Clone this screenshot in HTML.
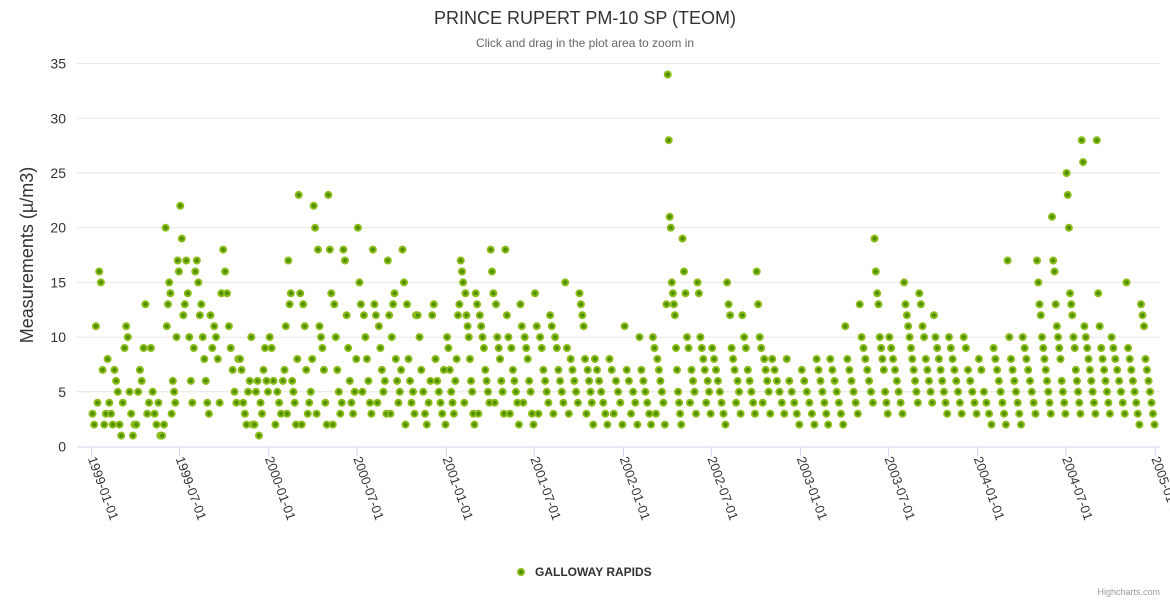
<!DOCTYPE html>
<html><head><meta charset="utf-8"><style>
body{margin:0;background:#fff;font-family:"Liberation Sans","DejaVu Sans",sans-serif;}
svg{display:block}
</style></head><body>
<svg id="chart" width="1170" height="600">
<rect width="1170" height="600" fill="#fff"/>
<text x="585" y="24" text-anchor="middle" font-size="18" fill="#333">PRINCE RUPERT PM-10 SP (TEOM)</text>
<text x="585" y="47" text-anchor="middle" font-size="12" fill="#666">Click and drag in the plot area to zoom in</text>
<text transform="translate(33,255) rotate(-90)" text-anchor="middle" font-size="18" fill="#333">Measurements (µ/m3)</text>
<g id="grid"></g><g id="xaxis"></g><g id="points"></g>
<g>
<circle cx="521" cy="572" r="3" fill="#4d8f00" stroke="#8cbc1a" stroke-width="2"/>
<text x="535" y="576" font-size="12" font-weight="bold" fill="#333">GALLOWAY RAPIDS</text>
</g>
<text x="1160" y="595" text-anchor="end" font-size="9" fill="#999">Highcharts.com</text>
</svg>
<script>
const yTicks=[0,5,10,15,20,25,30,35];
const xTickLabels=["1999-01-01","1999-07-01","2000-01-01","2000-07-01","2001-01-01","2001-07-01","2002-01-01","2002-07-01","2003-01-01","2003-07-01","2004-01-01","2004-07-01","2005-01-01"];
const startYear=1999;
// monthly readings (values in order across each month)
const monthValues=[
[3,2,11,4,16,15,7,2,3],[8,4,3,2,7,6,5,2],[1,4,9,11,10,5,3,1,2],[2,5,7,6,9,13,3,4],
[9,5,3,2,4,1,1,2],[20,11,13,15,14,3,6,5,4,10,17,16],[22,19,12,13,17,14,10,6,4,9],[16,17,15,12,13,10,8,6,4,3],
[12,9,11,10,8,4,14,18],[16,14,11,9,7,5,4,8],[8,7,4,3,2,5,6,10,2],[2,5,6,1,4,3,7,9,6,5],
[10,9,6,2,5,4,3,6],[7,11,3,17,13,14,6,5,4,2,8],[23,14,2,13,11,7,3,4,5,8],[22,20,3,18,11,10,9,7,4,2],
[23,18,14,2,13,10,7,5,3,4],[18,17,12,9,6,4,3,5,8],[20,15,13,5,12,10,8,6,4,3],[18,13,12,4,11,9,7,5,6,3],
[17,12,3,10,13,14,8,6,4,5,7],[18,15,2,13,8,6,4,5,3,12],[12,10,7,5,3,2,4,6],[12,13,8,6,5,4,3,7,2],
[10,9,7,5,4,3,6,8,12,13,17],[16,15,4,14,12,11,10,8,6,5,3,2],[14,13,3,12,11,10,9,7,6,5,4],[18,16,14,4,13,10,9,8,6,5,3],
[18,12,10,3,9,7,6,5,4,2],[13,11,4,10,9,8,6,5,3,2],[14,11,3,10,9,7,6,5,4],[12,11,3,10,9,7,6,5,4],
[15,9,3,8,7,6,5,4],[14,13,12,11,8,3,7,6,5,4,2],[8,7,6,5,4,3,2],[8,7,3,6,5,4,2],
[11,7,6,3,5,4,2],[10,7,6,5,4,3,2],[10,9,3,8,7,6,5,4,2,13],[34,28,21,20,15,14,13,12,9,7,5,4,3,2],
[19,16,14,10,9,4,7,6,5,3],[15,14,10,9,8,7,4,6,5,3],[9,8,7,6,5,4,3,2],[15,13,12,9,8,7,4,6,5,3],
[12,10,9,7,6,5,4,3],[16,13,10,9,4,8,7,6,5,3],[8,7,6,5,4,3],[8,6,5,4,3,2],
[7,6,5,4,3,2],[8,7,6,5,4,3,2],[8,7,6,5,4,3,2],[11,8,7,6,5,4,3],
[13,10,9,8,7,6,5,4],[19,16,14,13,10,9,8,7,5,4,3],[10,9,8,7,6,5,4,3],[15,13,12,11,10,9,8,7,6,5,4],
[14,13,11,10,8,7,6,5,4],[12,10,9,8,7,6,5,4,3],[10,9,8,7,6,5,4,3],[10,9,7,6,5,4,3],
[8,7,5,4,3,2],[9,8,7,6,5,4,3,2],[17,10,8,7,6,5,4,3,2],[10,9,8,7,6,5,4,3],
[17,15,13,12,10,9,8,7,6,5,4,3],[21,17,16,13,11,10,9,8,6,5,4,3],[25,23,20,14,13,12,10,9,7,6,5,4,3],[28,26,11,10,9,8,7,6,5,4,3],
[28,14,11,9,8,7,6,5,4,3],[10,9,8,7,6,5,4,3],[15,9,8,7,6,5,4,3,2],[13,12,11,8,7,6,5,4,3,2]
];
const NS="http://www.w3.org/2000/svg";
const X0=91.7,PXDAY=0.4852,Y0=446.5,PXU=10.94,LEFT=77,RIGHT=1160;
const base=Date.UTC(startYear,0,1);
function xs(ms){return X0+(ms-base)/86400000*PXDAY;}
function ys(v){return Y0-v*PXU;}
function mk(tag,attrs){const e=document.createElementNS(NS,tag);for(const k in attrs)e.setAttribute(k,attrs[k]);return e;}
const grid=document.getElementById('grid');
yTicks.forEach(t=>{
  const y=ys(t);
  if(t>0){const l=mk('line',{x1:LEFT,x2:RIGHT,y1:y,y2:y,stroke:'#e6e6e6'});
  
  
  grid.appendChild(l);}
  const tx=mk('text',{x:66,y:y+5,'text-anchor':'end','font-size':14,fill:'#333'});
  tx.textContent=t;
  
  
  grid.appendChild(tx);
});
const xa=document.getElementById('xaxis');
const al=mk('line',{x1:LEFT,x2:RIGHT,y1:Y0+0.5,y2:Y0+0.5,stroke:'#ccd6eb'});


xa.appendChild(al);
xTickLabels.forEach(s=>{
  const p=s.split('-');const x=xs(Date.UTC(+p[0],+p[1]-1,+p[2]));
  const tk=mk('line',{x1:x,x2:x,y1:Y0,y2:Y0+10,stroke:'#ccd6eb'});
  
  
  xa.appendChild(tk);
  const tx=mk('text',{transform:`translate(${x-4},${Y0+12}) rotate(70)`,'font-size':13,fill:'#333'});
  tx.textContent=s;
  
  
  xa.appendChild(tx);
});
const pg=document.getElementById('points');
monthValues.forEach((vals,mi)=>{
  const y=startYear+Math.floor(mi/12),m=mi%12;
  const s=Date.UTC(y,m,1),e=Date.UTC(y,m+1,1);
  vals.forEach((v,j)=>{
    const t=s+(e-s)*(j+0.5)/vals.length;
    const c=mk('circle',{cx:xs(t).toFixed(1),cy:ys(v).toFixed(1),r:3,fill:'#4d8f00',stroke:'#8cbc1a','stroke-width':2});
    
    
    pg.appendChild(c);
  });
});
</script>
</body></html>
